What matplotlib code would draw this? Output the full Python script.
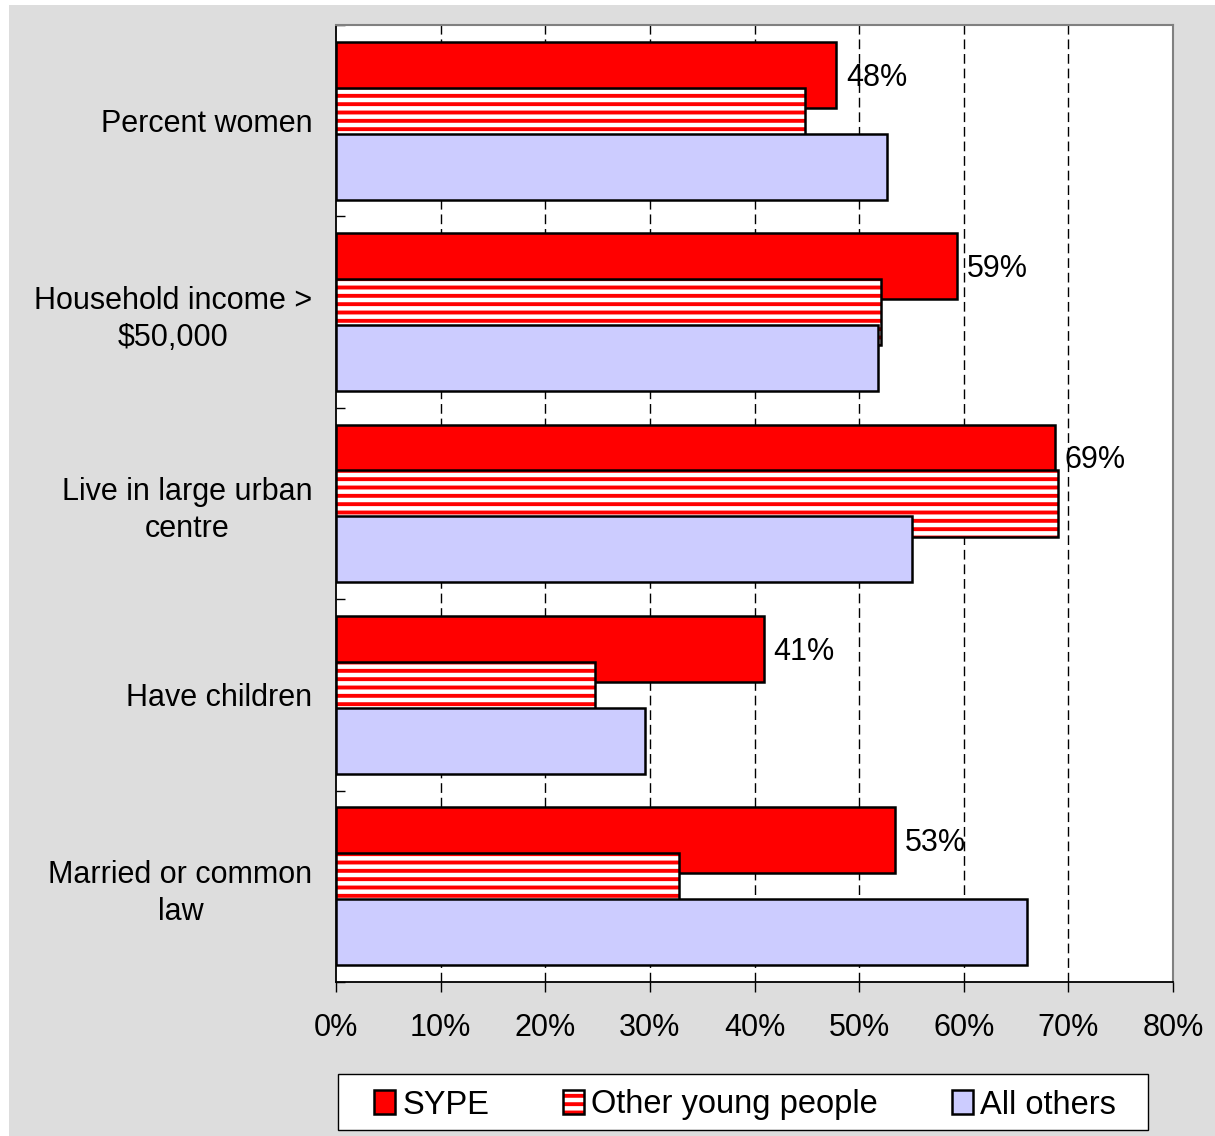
import matplotlib
matplotlib.use("Agg")
import matplotlib.pyplot as plt
from matplotlib.patches import Patch, Rectangle
from matplotlib.legend_handler import HandlerTuple
import numpy as np

categories = ["Percent women", "Household income >\n$50,000",
              "Live in large urban\ncentre", "Have children",
              "Married or common\nlaw"]
sype = [47.8, 59.4, 68.7, 40.9, 53.4]
other_young = [44.8, 52.1, 69.0, 24.8, 32.8]
all_others = [52.7, 51.8, 55.1, 29.5, 66.0]
series_names = ["SYPE", "Other young people", "All others"]
x_ticks = [0, 10, 20, 30, 40, 50, 60, 70, 80]
x_tick_labels = [f"{t}%" for t in x_ticks]

plt.rcParams['font.family'] = ['Liberation Sans', 'DejaVu Sans']
plt.rcParams['hatch.linewidth'] = 2.8

W, H = 1215, 1136
fig = plt.figure(figsize=(W / 100, H / 100), dpi=100, facecolor='white')
fig.patches.append(Rectangle((9 / W, 0), 1, 1 - 5 / H, transform=fig.transFigure,
                             facecolor='#dddddd', edgecolor='none', zorder=-10))

ax = fig.add_axes([336 / W, 1 - 982 / H, (1173 - 336) / W, (982 - 25) / H])
ax.set_facecolor('white')

y = np.arange(len(categories))
bh = 0.345
off = 0.24
RED = '#ff0000'
LAV = '#ccccff'
FS = 22

for t in x_ticks[1:-1]:
    ax.axvline(t, color='black', lw=1, linestyle=(0, (7, 3.5)), zorder=1)

ax.barh(y - off, sype, height=bh, color=RED, edgecolor='black', lw=1.8, zorder=3)
ax.barh(y, other_young, height=bh, color='white', edgecolor=RED, hatch='--', lw=0, zorder=4)
ax.barh(y, other_young, height=bh, fill=False, edgecolor='black', lw=1.8, zorder=4.1)
ax.barh(y + off, all_others, height=bh, color=LAV, edgecolor='black', lw=1.8, zorder=5)

for yi, v in zip(y - off, sype):
    ax.annotate(f"{v:.0f}%", xy=(v, yi), xytext=(7, -2), textcoords='offset points',
                va='center', ha='left', fontsize=FS, zorder=6)

ax.set_xlim(0, 80)
ax.set_ylim(len(categories) - 0.5, -0.5)
ax.set_xticks(x_ticks)
ax.set_xticklabels(x_tick_labels)
ax.tick_params(axis='x', direction='out', length=7, width=1, pad=15, labelsize=FS)
ax.set_yticks(y)
ax.set_yticklabels(categories, multialignment='center', linespacing=1.32)
ax.tick_params(axis='y', which='major', length=0, pad=17, labelsize=FS)
ax.set_yticks(np.arange(len(categories) + 1) - 0.5, minor=True)
ax.tick_params(axis='y', which='minor', direction='in', length=6.5, width=1)

for s in ['left', 'bottom']:
    ax.spines[s].set_color('black')
    ax.spines[s].set_linewidth(1.3)
for s in ['top', 'right']:
    ax.spines[s].set_color('#808080')
    ax.spines[s].set_linewidth(1.5)

# legend
fig.patches.append(Rectangle((338 / W, 1 - 1130 / H), 810 / W, 56 / H, transform=fig.transFigure,
                             facecolor='white', edgecolor='black', lw=1, zorder=-5))
h1 = Patch(facecolor=RED, edgecolor='black', lw=1.8)
h2a = Patch(facecolor='white', edgecolor=RED, hatch='--', lw=0)
h2b = Patch(fill=False, edgecolor='black', lw=1.8)
h3 = Patch(facecolor=LAV, edgecolor='black', lw=1.8)
fig.legend([h1, (h2a, h2b), h3], series_names,
           handler_map={tuple: HandlerTuple(ndivide=1)},
           loc='center', bbox_to_anchor=(745 / W, 1 - 1105 / H), ncol=3, fontsize=23.5,
           frameon=False, handlelength=0.65, handleheight=0.75, handletextpad=0.22,
           columnspacing=2.25, borderpad=0.3)

fig.savefig('out.png', dpi=100, facecolor='white')
